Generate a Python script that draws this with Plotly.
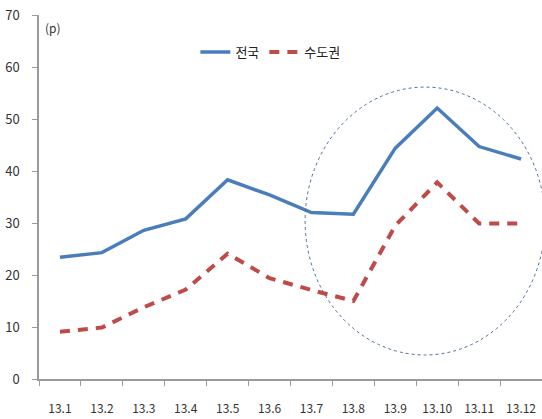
import plotly.graph_objects as go

months = ["13.1", "13.2", "13.3", "13.4", "13.5", "13.6", "13.7", "13.8", "13.9", "13.10", "13.11", "13.12"]
nation = [23.4, 24.3, 28.6, 30.8, 38.3, 35.4, 32.0, 31.7, 44.4, 52.1, 44.7, 42.3]
capital = [9.1, 9.9, 13.8, 17.2, 24.1, 19.4, 17.1, 15.0, 29.5, 37.8, 29.9, 29.9]
y_ticks = [0, 10, 20, 30, 40, 50, 60, 70]

FONT = "Noto Sans CJK KR, Noto Sans, sans-serif"

fig = go.Figure()
fig.add_trace(go.Scatter(
    x=months, y=nation, mode="lines", name="전국",
    line=dict(color="#4a7ebb", width=3.5),
))
fig.add_trace(go.Scatter(
    x=months, y=capital, mode="lines", name="수도권",
    line=dict(color="#be4b48", width=4, dash="10px,8px"),
))

fig.add_shape(
    type="circle", xref="paper", yref="paper",
    x0=0.529, x1=1.006, y0=0.066, y1=0.802,
    line=dict(color="#4f6f9f", width=1, dash="dot"),
    layer="above",
)

fig.add_annotation(
    text="(p)", xref="paper", yref="paper", x=0.008, y=0.967,
    xanchor="left", yanchor="middle", showarrow=False,
    font=dict(size=12, color="#333333", family=FONT),
)

fig.update_layout(
    width=542, height=419,
    margin=dict(l=39, r=0, t=15, b=40),
    paper_bgcolor="white", plot_bgcolor="white",
    font=dict(family=FONT, size=12, color="#333333"),
    showlegend=True,
    legend=dict(
        orientation="h", x=0.46, y=0.898, xanchor="center", yanchor="middle",
        font=dict(size=13, color="#222222", family=FONT),
        itemwidth=30, bgcolor="rgba(0,0,0,0)", tracegroupgap=0,
    ),
    xaxis=dict(
        type="category", range=[-0.5, 11.5],
        showgrid=False, zeroline=False,
        showline=True, linecolor="#9a9a9a", linewidth=1.5,
        ticks="outside", ticklen=5, tickcolor="#9a9a9a", tickson="boundaries",
        ticklabelstandoff=18,
        tickfont=dict(size=12, color="#333333", family=FONT),
    ),
    yaxis=dict(
        range=[0, 70], tickvals=y_ticks,
        showgrid=False, zeroline=False,
        showline=True, linecolor="#9a9a9a", linewidth=1.5,
        ticks="outside", ticklen=5, tickcolor="#9a9a9a",
        ticklabelstandoff=10,
        tickfont=dict(size=13, color="#333333", family=FONT),
    ),
)

fig.write_html("out.html")
